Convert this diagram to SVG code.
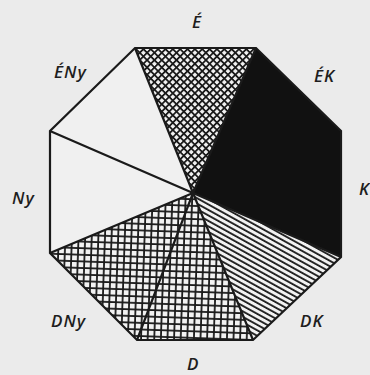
<svg xmlns="http://www.w3.org/2000/svg" width="370" height="375" viewBox="0 0 370 375">
<style>
.lbl{font-family:"Open Sans","Liberation Sans","DejaVu Sans",sans-serif;font-size:17px;font-style:italic;font-weight:600;letter-spacing:1px;fill:#1e1e1e}
.edge{stroke:#1a1a1a;stroke-width:2.2;fill:none;stroke-linejoin:miter}
.hl{stroke:#1a1a1a;stroke-width:1.8}
</style>
<defs>
<pattern id="diag" patternUnits="userSpaceOnUse" width="5.2" height="5.2" patternTransform="rotate(45)">
<rect width="5.2" height="5.2" fill="#f2f2f2"/>
<line class="hl" x1="0" y1="0.9" x2="5.2" y2="0.9"/>
<line class="hl" x1="0.9" y1="0" x2="0.9" y2="5.2"/>
</pattern>
<pattern id="grid" patternUnits="userSpaceOnUse" width="6.6" height="6.6" patternTransform="rotate(2)">
<rect width="6.6" height="6.6" fill="#f2f2f2"/>
<line class="hl" x1="0" y1="1" x2="6.6" y2="1"/>
<line class="hl" x1="1" y1="0" x2="1" y2="6.6"/>
</pattern>
<pattern id="stripe" patternUnits="userSpaceOnUse" width="4.8" height="4.8" patternTransform="rotate(29)">
<rect width="4.8" height="4.8" fill="#f2f2f2"/>
<line class="hl" x1="0" y1="1" x2="4.8" y2="1"/>
</pattern>
</defs>
<rect width="370" height="375" fill="#ebebeb"/>
<g id="sector-ENy"><polygon points="193,193 50,131 135,48" fill="#f0f0f0"/></g>
<g id="sector-Ny"><polygon points="193,193 50,253 50,131" fill="#f0f0f0"/></g>
<g id="sector-E"><polygon points="193,193 135,48 256,48" fill="url(#diag)"/></g>
<g id="sector-EK-K"><polygon points="193,193 256,48 341,131 341,257" fill="#111"/></g>
<g id="sector-DK"><polygon points="193,193 341,257 253,340" fill="url(#stripe)"/></g>
<g id="sector-D"><polygon points="193,193 253,340 137,340" fill="url(#grid)"/></g>
<g id="sector-DNy"><polygon points="193,193 137,340 50,253" fill="url(#grid)"/></g>
<g id="connectors">
<polygon class="edge" points="135,48 256,48 341,131 341,257 253,340 137,340 50,253 50,131"/>
<path class="edge" d="M193,193 L135,48 M193,193 L256,48 M193,193 L341,257 M193,193 L253,340 M193,193 L137,340 M193,193 L50,253 M193,193 L50,131"/>
</g>
<g id="labels">
<text class="lbl" x="192" y="28">É</text>
<text class="lbl" x="314" y="82">ÉK</text>
<text class="lbl" x="359" y="195">K</text>
<text class="lbl" x="300" y="327">DK</text>
<text class="lbl" x="187" y="370">D</text>
<text class="lbl" x="51" y="327">DNy</text>
<text class="lbl" x="12" y="204">Ny</text>
<text class="lbl" x="54" y="78">ÉNy</text>
</g>
</svg>
